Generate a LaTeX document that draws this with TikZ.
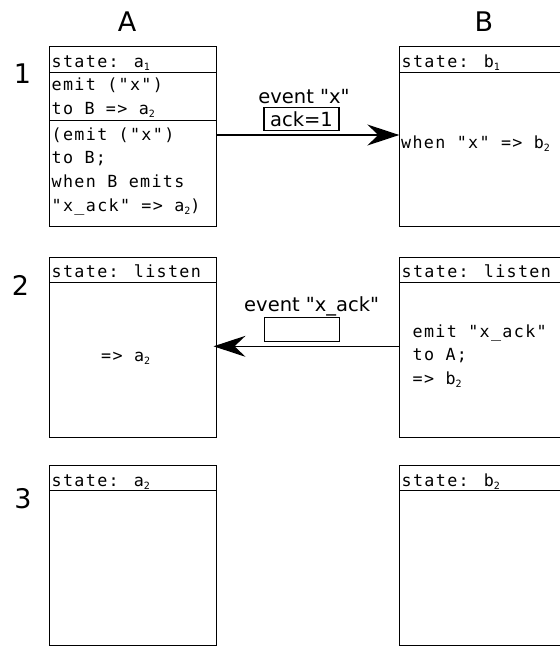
\documentclass[tikz,border=0pt]{standalone}
\usepackage{fontspec}
\usetikzlibrary{arrows.meta}
\newfontfamily\codefont[LetterSpace=8]{DejaVu Sans Mono}
\newfontfamily\labelfont{DejaVu Sans}
\newcommand\lowidx[1]{\raisebox{-3pt}{\fontsize{10}{10}\selectfont #1}}

\begin{document}
\begin{tikzpicture}[x=1pt,y=-1pt,
  statebox/.style={draw, line width=1.2pt, inner sep=0pt, outer sep=0pt,
    minimum width=167.2pt, minimum height=180pt},
  rule/.style={line width=1.2pt},
  code/.style={anchor=base west, inner sep=0pt, font=\codefont\fontsize{16.7}{16.7}\selectfont},
  title/.style={anchor=base, inner sep=0pt, font=\labelfont\fontsize{27}{27}\selectfont},
  evt/.style={anchor=base, inner sep=0pt, font=\labelfont\fontsize{19.5}{19.5}\selectfont},
  msg/.style={draw, line width=1.2pt, inner sep=0pt, minimum width=75pt,
    minimum height=23.5pt, font=\labelfont\fontsize{19.5}{19.5}\selectfont},
  arr/.style={line width=1.2pt, -{Stealth[length=32pt,width=21pt,inset=11pt]}}]
\useasboundingbox (0,0) rectangle (560,646);
\begin{scope}
\clip (0,0) rectangle (560,646);

% column and row titles
\node[title] (tA) at (127,31.5) {A};
\node[title] (tB) at (484,31.5) {B};
\node[title] (n1) at (22.5,83.3) {1};
\node[title] (n2) at (20.5,295.5) {2};
\node[title] (n3) at (23,508) {3};

% state boxes
\node[statebox] (a1) at (132.9,136.7) {};
\node[statebox] (b1) at (482.9,136.7) {};
\node[statebox] (a2) at (132.9,347.3) {};
\node[statebox] (b2) at (482.9,347.3) {};
\node[statebox] (a3) at (132.9,555.4) {};
\node[statebox] (b3) at (482.9,555.4) {};

% header rules
\foreach \b in {a1,b1,a2,b2,a3,b3}
  \draw[rule] ([yshift=-25.4pt]\b.north west) -- ([yshift=-25.4pt]\b.north east);
\draw[rule] ([yshift=-74pt]a1.north west) -- ([yshift=-74pt]a1.north east);

% step 1
\node[code] (a1h) at (51.5,67.5) {state: a\lowidx{1}};
\node[code] (a1l1) at (51.5,90) {emit ("x")};
\node[code] (a1l2) at (51.5,114) {to B => a\lowidx{2}};
\node[code] (a1l3) at (51.5,140) {(emit ("x")};
\node[code] (a1l4) at (51.5,163.8) {to B;};
\node[code] (a1l5) at (51.5,187.5) {when B emits};
\node[code] (a1l6) at (51.5,211) {"x\_ack" => a\lowidx{2})};
\node[code] (b1h) at (401.5,67.5) {state: b\lowidx{1}};
\node[code] (b1l1) at (401,148) {when "x" => b\lowidx{2}};

\draw[arr] ([yshift=1.7pt]a1.east) -- ([yshift=1.7pt]b1.west);
\node[evt] (e1) at (304,103) {event "x"};
\node[msg] (m1) at (301.5,119) {ack=1};

% step 2
\node[code] (a2h) at (51.5,277.3) {state: listen};
\node[code] (a2l1) at (101,361) {=> a\lowidx{2}};
\node[code] (b2h) at (401.5,277.3) {state: listen};
\node[code] (b2l1) at (412.5,337) {emit "x\_ack"};
\node[code] (b2l2) at (412.5,360.5) {to A;};
\node[code] (b2l3) at (412.5,384) {=> b\lowidx{2}};

\draw[arr, shorten >=-3pt] ([yshift=1pt]b2.west) -- ([yshift=1pt]a2.east);
\node[evt] (e2) at (311.7,311) {event "x\_ack"};
\node[msg] (m2) at (302,329.5) {};

% step 3
\node[code] (a3h) at (51.5,486) {state: a\lowidx{2}};
\node[code] (b3h) at (401.5,486) {state: b\lowidx{2}};
\end{scope}
\end{tikzpicture}
\end{document}
